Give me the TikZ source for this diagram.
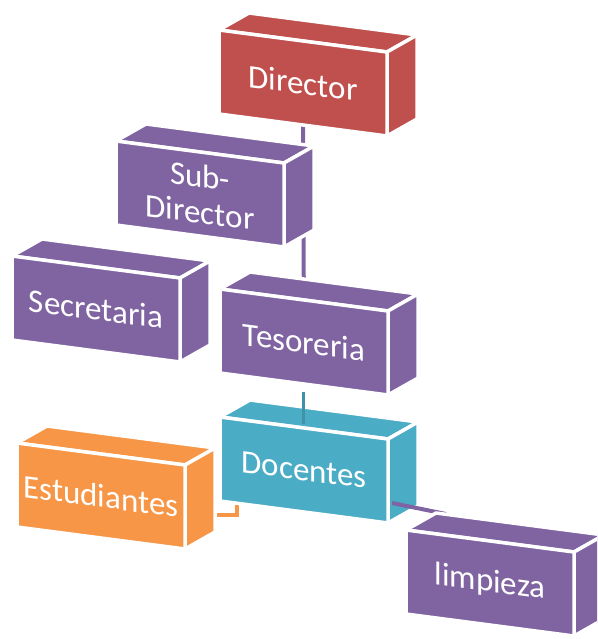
\documentclass[tikz,border=0pt]{standalone}
\usepackage{fontspec}
\setmainfont{Carlito}
\usetikzlibrary{calc}
\definecolor{chiefred}{RGB}{192,80,77}
\definecolor{staffpurple}{RGB}{128,100,162}
\definecolor{teachteal}{RGB}{75,172,198}
\definecolor{pupilorange}{RGB}{247,150,70}
\pgfdeclarelayer{background}
\pgfsetlayers{background,main}

% one 3D block: name, colour, front corner x, front corner y, label
\newcommand{\orgblock}[5]{%
  \filldraw[face, fill=#2] (#3,#4) -- ++(168,22) -- ++(30,-17) -- ++(-168,-22) -- cycle;
  \filldraw[face, fill=#2] ($(#3,#4)+(168,22)$) -- ++(30,-17) -- ++(0,84) -- ++(-30,17) -- cycle;
  \filldraw[face, fill=#2] (#3,#4) -- ++(168,22) -- ++(0,84) -- ++(-168,-22) -- cycle;
  \node[blocktext] (#1) at ($(#3,#4)+(84,53)$) {#5};
}

\begin{document}
\begin{tikzpicture}[
    x=1pt, y=-1pt,
    face/.style={draw=white, line width=3.5pt, line join=round},
    blocktext/.style={text=white, font=\fontsize{33}{36}\selectfont, align=center, yslant=-0.131, transform shape},
    conn/.style={line width=4pt}
]
\useasboundingbox (0,0) rectangle (597,639);
\clip (0,0) rectangle (597,639);

\orgblock{dir}{chiefred}{219}{30}{Director}
\orgblock{sub}{staffpurple}{116}{141}{Sub-\\Director}
\orgblock{sec}{staffpurple}{12}{256}{Secretaria}
\orgblock{tes}{staffpurple}{220}{289}{Tesoreria}
\orgblock{est}{pupilorange}{17}{443}{Estudiantes}
\orgblock{doc}{teachteal}{220}{417}{Docentes}

% links that show on top of the Docentes block
\coordinate (tesfoot) at (303,392);
\coordinate (docneck) at (303,424);
\draw[conn, line width=3pt, teachteal!85!black] (tesfoot) -- (docneck);
\coordinate (docside) at (392,503);
\coordinate (limtop) at (446,514);
\draw[conn, staffpurple] (docside) -- (limtop);

\orgblock{lim}{staffpurple}{406}{530}{limpieza}

% links hidden behind the blocks
\coordinate (estside) at (200,515);
\coordinate (docleg) at (237,495);
\begin{pgfonlayer}{background}
  \draw[conn, staffpurple] (dir) -- (tes);
  \draw[conn, pupilorange] (estside) -| (docleg);
\end{pgfonlayer}
\end{tikzpicture}
\end{document}
